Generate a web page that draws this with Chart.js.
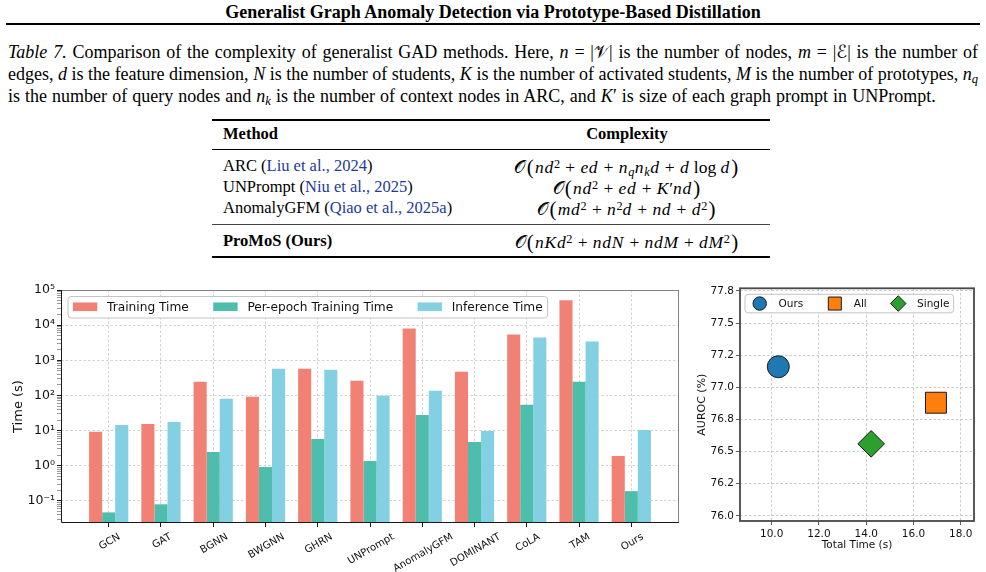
<!DOCTYPE html>
<html><head><meta charset="utf-8">
<script src="https://cdn.jsdelivr.net/npm/chart.js@4.4.1/dist/chart.umd.min.js"></script>
<style>
html,body{margin:0;padding:0;background:#fff;}
#page{position:relative;width:986px;height:572px;overflow:hidden;font-family:"Liberation Serif","Times New Roman",serif;color:#000;}
.title{position:absolute;left:0;top:2px;width:986px;text-align:center;font-weight:bold;font-size:18px;line-height:20px;}
.rule{position:absolute;left:6px;width:974px;top:23px;height:2px;background:#000;}
.cap{position:absolute;left:8px;width:970px;font-size:18px;line-height:22px;top:41px;}
.cap .ln{white-space:nowrap;text-align:justify;text-align-last:justify;}
.cap .ln.last{text-align-last:left;word-spacing:0.55px;}
.cal{font-family:"DejaVu Sans","Noto Sans",serif;font-style:normal;}
sub,sup{font-size:0.7em;line-height:0;}
sub{vertical-align:-0.25em;}
sup{vertical-align:0.45em;}
.tr{position:absolute;left:212px;width:558px;background:#000;}
.row{position:absolute;left:0;width:986px;font-size:16.5px;line-height:20px;}
.mth{position:absolute;left:223px;white-space:nowrap;}
.cx{position:absolute;left:434px;width:386px;text-align:center;white-space:nowrap;font-size:17.5px;}
.cx i{letter-spacing:0.04em;}
.op{margin:0 0.3em;}
.cite{color:#24399a;}
.bp{font-size:1.2em;display:inline-block;transform:translateY(0.5px);margin:0 0.06em;}
canvas{position:absolute;}
</style></head>
<body><div id="page">
<div class="title">Generalist Graph Anomaly Detection via Prototype-Based Distillation</div>
<div class="rule"></div>
<div class="cap">
<div class="ln"><i>Table 7.</i> Comparison of the complexity of generalist GAD methods. Here, <i>n</i> = |<span class="cal">𝒱</span>| is the number of nodes, <i>m</i> = |<span class="cal">ℰ</span>| is the number of</div>
<div class="ln">edges, <i>d</i> is the feature dimension, <i>N</i> is the number of students, <i>K</i> is the number of activated students, <i>M</i> is the number of prototypes, <i>n</i><sub><i>q</i></sub></div>
<div class="ln last">is the number of query nodes and <i>n</i><sub><i>k</i></sub> is the number of context nodes in ARC, and <i>K</i>′ is size of each graph prompt in UNPrompt.</div>
</div>

<div class="tr" style="top:119px;height:1.5px"></div>
<div class="row" style="top:124px;font-weight:bold"><span class="mth">Method</span><span class="cx" style="font-size:16.5px">Complexity</span></div>
<div class="tr" style="top:149px;height:1px"></div>
<div class="row" style="top:156px"><span class="mth">ARC (<span class="cite">Liu et al., 2024</span>)</span><span class="cx"><span class="cal">𝒪</span><span class="bp">(</span><i>nd</i><sup>2</sup><span class="op">+</span><i>ed</i><span class="op">+</span><i>n</i><sub><i>q</i></sub><i>n</i><sub><i>k</i></sub><i>d</i><span class="op">+</span><i>d</i> log <i>d</i><span class="bp">)</span></span></div>
<div class="row" style="top:177px"><span class="mth">UNPrompt (<span class="cite">Niu et al., 2025</span>)</span><span class="cx"><span class="cal">𝒪</span><span class="bp">(</span><i>nd</i><sup>2</sup><span class="op">+</span><i>ed</i><span class="op">+</span><i>K</i>′<i>nd</i><span class="bp">)</span></span></div>
<div class="row" style="top:198px"><span class="mth">AnomalyGFM (<span class="cite">Qiao et al., 2025a</span>)</span><span class="cx"><span class="cal">𝒪</span><span class="bp">(</span><i>md</i><sup>2</sup><span class="op">+</span><i>n</i><sup>2</sup><i>d</i><span class="op">+</span><i>nd</i><span class="op">+</span><i>d</i><sup>2</sup><span class="bp">)</span></span></div>
<div class="tr" style="top:224px;height:1px;background:#444"></div>
<div class="row" style="top:231px"><span class="mth" style="font-weight:bold">ProMoS (Ours)</span><span class="cx"><span class="cal">𝒪</span><span class="bp">(</span><i>nKd</i><sup>2</sup><span class="op">+</span><i>ndN</i><span class="op">+</span><i>ndM</i><span class="op">+</span><i>dM</i><sup>2</sup><span class="bp">)</span></span></div>
<div class="tr" style="top:256px;height:1.5px"></div>

<canvas id="bars" width="680" height="292" style="left:0;top:280px;width:680px;height:292px"></canvas>
<canvas id="scat" width="306" height="292" style="left:680px;top:280px;width:306px;height:292px"></canvas>
</div>
<script>
// ---------------- data: left chart ----------------
const categories = ['GCN','GAT','BGNN','BWGNN','GHRN','UNPrompt','AnomalyGFM','DOMINANT','CoLA','TAM','Ours'];
const trainingTime = [9.2, 15.5, 246, 92, 578, 262, 8030, 475, 5400, 50700, 1.89];
const perEpochTime = [0.047, 0.080, 2.46, 0.92, 5.78, 1.36, 28, 4.74, 54, 246, 0.189];
const inferenceTime = [14.5, 17.7, 80, 578, 541, 98, 136, 9.8, 4450, 3410, 10.4];
const seriesNames = ['Training Time', 'Per-epoch Training Time', 'Inference Time'];
const logExponents = [-1, 0, 1, 2, 3, 4, 5];
const logTickLabels = ['10⁻¹', '10⁰', '10¹', '10²', '10³', '10⁴', '10⁵'];

// ---------------- data: right chart ----------------
const methods = ['Ours', 'All', 'Single'];
const totalTime = [10.28, 16.95, 14.21];
const auroc = [77.16, 76.88, 76.56];
const xTickValues = [10, 12, 14, 16, 18];
const xTickLabels = ['10.0', '12.0', '14.0', '16.0', '18.0'];
const yTickValues = [76.0, 76.25, 76.5, 76.75, 77.0, 77.25, 77.5, 77.75];
const yTickLabels = ['76.0', '76.2', '76.5', '76.8', '77.0', '77.2', '77.5', '77.8'];

const FONT = 'DejaVu Sans';
const barColors = ['#F08174', '#4EBDAC', '#82D0E2'];
const seriesValues = [trainingTime, perEpochTime, inferenceTime];

function roundRect(ctx, x, y, w, h, r) {
  ctx.beginPath();
  ctx.moveTo(x + r, y);
  ctx.arcTo(x + w, y, x + w, y + h, r);
  ctx.arcTo(x + w, y + h, x, y + h, r);
  ctx.arcTo(x, y + h, x, y, r);
  ctx.arcTo(x, y, x + w, y, r);
  ctx.closePath();
}

const barDecor = {
  id: 'barDecor',
  afterDatasetsDraw(chart) {
    const {ctx, chartArea: a} = chart;
    ctx.save();
    ctx.lineWidth = 1;
    ctx.strokeStyle = '#808080';
    ctx.beginPath();
    ctx.moveTo(a.left, a.top + 0.5); ctx.lineTo(a.right - 0.5, a.top + 0.5); ctx.lineTo(a.right - 0.5, a.bottom);
    ctx.stroke();
    ctx.strokeStyle = '#1a1a1a';
    ctx.beginPath();
    ctx.moveTo(a.left + 0.5, a.top); ctx.lineTo(a.left + 0.5, a.bottom - 0.5); ctx.lineTo(a.right, a.bottom - 0.5);
    ctx.stroke();

    // category labels: rotated 30 degrees, centred under their tick
    const xs = chart.scales.x;
    const lfs = 10.2;
    ctx.font = lfs + 'px "' + FONT + '"';
    ctx.fillStyle = '#111';
    ctx.textAlign = 'center';
    ctx.textBaseline = 'middle';
    const ang = Math.PI / 6;
    xs.ticks.forEach(t => {
      const label = categories[t.value];
      const px = xs.getPixelForValue(t.value);
      const W = ctx.measureText(label).width;
      const H = lfs * 1.17;
      const bh = W * Math.sin(ang) + H * Math.cos(ang);
      const cy = xs.top + 8 + bh / 2;
      ctx.save();
      ctx.translate(px + 1, cy);
      ctx.rotate(-ang);
      ctx.fillText(label, 0, 0);
      ctx.restore();
    });

    // legend (inside, upper left)
    const fs = 12.2;
    ctx.font = fs + 'px "' + FONT + '"';
    ctx.textAlign = 'left';
    const pad = 0.4 * fs, hl = 2 * fs, htp = 0.8 * fs, cs = 2 * fs;
    const ds = chart.data.datasets;
    const widths = ds.map(d => ctx.measureText(d.label).width);
    let w = pad * 2;
    widths.forEach((tw, i) => { w += hl + htp + tw + (i ? cs : 0); });
    const bx = a.left + 7, by = a.top + 6.5, bh = 21.5;
    roundRect(ctx, bx, by, w, bh, 3);
    ctx.fillStyle = 'rgba(255,255,255,0.85)';
    ctx.fill();
    ctx.strokeStyle = '#c4c4c4';
    ctx.lineWidth = 1;
    ctx.stroke();
    let x = bx + pad;
    const cy = by + bh / 2;
    ds.forEach((d, i) => {
      ctx.fillStyle = d.backgroundColor;
      ctx.fillRect(x, cy - 4.8, hl, 8.6);
      x += hl + htp;
      ctx.fillStyle = '#111';
      ctx.textBaseline = 'middle';
      ctx.fillText(d.label, x, cy + 0.5);
      x += widths[i] + cs;
    });
    ctx.restore();
  }
};

new Chart(document.getElementById('bars'), {
  type: 'bar',
  data: {
    datasets: seriesNames.map((name, k) => ({
      label: name,
      data: seriesValues[k].map((v, i) => ({x: i, y: v})),
      backgroundColor: barColors[k],
      borderWidth: 0,
      categoryPercentage: 0.75,
      barPercentage: 1.0
    }))
  },
  options: {
    responsive: false,
    animation: false,
    devicePixelRatio: 1,
    layout: {autoPadding: false, padding: {top: 10, right: 1, left: 0, bottom: 0}},
    plugins: {legend: {display: false}, tooltip: {enabled: false}},
    scales: {
      x: {
        type: 'linear',
        offset: false,
        min: -0.9125,
        max: 10.9125,
        afterBuildTicks: ax => { ax.ticks = categories.map((c, i) => ({value: i})); },
        afterFit: ax => { ax.height = 49; },
        ticks: {display: false, autoSkip: false},
        grid: {offset: false, color: '#c6c6c6', lineWidth: 0.8, tickColor: '#1a1a1a', tickLength: 4, tickWidth: 1},
        border: {display: false, dash: [2.5, 2]}
      },
      y: {
        type: 'logarithmic',
        min: 0.0235,
        max: 100000,
        afterBuildTicks: ax => {
          const t = [];
          for (let e = -2; e <= 5; e++) {
            for (let m = 1; m <= 9; m++) {
              const v = m * Math.pow(10, e);
              if (v >= ax.min * 0.9999 && v <= ax.max * 1.0001) t.push({value: v, major: m === 1});
            }
          }
          ax.ticks = t;
        },
        afterFit: ax => { ax.width = 61; },
        ticks: {
          autoSkip: false,
          padding: 2,
          color: '#111',
          font: {family: FONT, size: 12.5},
          callback: (v, i, ticks) => {
            if (!ticks[i].major) return '';
            const idx = logExponents.indexOf(Math.round(Math.log10(v)));
            return idx >= 0 ? logTickLabels[idx] : '';
          }
        },
        grid: {
          color: c => (c.tick && c.tick.major) ? '#c6c6c6' : 'rgba(0,0,0,0)',
          lineWidth: 0.8,
          tickColor: c => (c.tick && c.tick.major) ? '#1a1a1a' : '#555',
          tickWidth: c => (c.tick && c.tick.major) ? 1 : 0.6,
          tickLength: 4
        },
        border: {display: false, dash: [2.5, 2]},
        title: {display: true, text: 'Time (s)', color: '#111', font: {family: FONT, size: 13}, padding: {top: 11, bottom: 0}}
      }
    }
  },
  plugins: [barDecor]
});

// ---------------- right chart ----------------
const markerStyles = ['circle', 'rect', 'rectRot'];
const markerColors = ['#1f77b4', '#ff7f0e', '#2ca02c'];
const markerRadius = [11, 14.8, 13.3];
const legendRadius = [6.7, 9.2, 7.8];

const scatDecor = {
  id: 'scatDecor',
  afterDatasetsDraw(chart) {
    const {ctx, chartArea: a} = chart;
    ctx.save();
    ctx.strokeStyle = '#484848';
    ctx.lineWidth = 1.8;
    ctx.strokeRect(a.left, a.top, a.right - a.left, a.bottom - a.top);
    const fs = 10.5;
    ctx.font = fs + 'px "' + FONT + '"';
    const pad = 0.4 * fs, hl = 2 * fs, htp = 0.8 * fs, cs = 2 * fs;
    const ds = chart.data.datasets;
    const widths = ds.map(d => ctx.measureText(d.label).width);
    let w = pad * 2;
    widths.forEach((tw, i) => { w += hl + htp + tw + (i ? cs : 0); });
    const bx = a.left + 5, by = a.top + 6, bh = 18.5;
    roundRect(ctx, bx, by, w, bh, 3);
    ctx.fillStyle = 'rgba(255,255,255,0.85)';
    ctx.fill();
    ctx.strokeStyle = '#c4c4c4';
    ctx.lineWidth = 1;
    ctx.stroke();
    let x = bx + pad;
    const cy = by + bh / 2;
    ds.forEach((d, i) => {
      ctx.fillStyle = d.backgroundColor;
      ctx.strokeStyle = d.borderColor;
      ctx.lineWidth = 1;
      Chart.helpers.drawPoint(ctx, {pointStyle: d.pointStyle, radius: legendRadius[i], rotation: 0, borderWidth: 1}, x + hl / 2, cy);
      x += hl + htp;
      ctx.fillStyle = '#111';
      ctx.textBaseline = 'middle';
      ctx.fillText(d.label, x, cy + 0.5);
      x += widths[i] + cs;
    });
    ctx.restore();
  }
};

new Chart(document.getElementById('scat'), {
  type: 'scatter',
  data: {
    datasets: methods.map((m, i) => ({
      label: m,
      data: [{x: totalTime[i], y: auroc[i]}],
      pointStyle: markerStyles[i],
      pointRadius: markerRadius[i],
      backgroundColor: markerColors[i],
      borderColor: '#1a1a1a',
      borderWidth: 1
    }))
  },
  options: {
    responsive: false,
    animation: false,
    devicePixelRatio: 1,
    layout: {autoPadding: false, padding: {top: 8, right: 12, left: 0, bottom: 0}},
    plugins: {legend: {display: false}, tooltip: {enabled: false}},
    scales: {
      x: {
        type: 'linear',
        min: 8.66,
        max: 18.56,
        afterBuildTicks: ax => { ax.ticks = xTickValues.map(v => ({value: v})); },
        afterFit: ax => { ax.height = 51; },
        ticks: {
          callback: (v, i) => xTickLabels[i],
          maxRotation: 0,
          padding: 3,
          color: '#111',
          font: {family: FONT, size: 10.5}
        },
        grid: {color: '#bdbdbd', lineWidth: 0.8, tickColor: '#333', tickLength: 4},
        border: {display: false, dash: [2.5, 2]},
        title: {display: true, text: 'Total Time (s)', color: '#111', font: {family: FONT, size: 10.5}, padding: {top: 0, bottom: 20}}
      },
      y: {
        type: 'linear',
        min: 75.96,
        max: 77.77,
        afterBuildTicks: ax => { ax.ticks = yTickValues.map(v => ({value: v})); },
        afterFit: ax => { ax.width = 60; },
        ticks: {
          callback: (v, i) => yTickLabels[i],
          padding: 2,
          color: '#111',
          font: {family: FONT, size: 10.5}
        },
        grid: {color: '#bdbdbd', lineWidth: 0.8, tickColor: '#333', tickLength: 4},
        border: {display: false, dash: [2.5, 2]},
        title: {display: true, text: 'AUROC (%)', color: '#111', font: {family: FONT, size: 11}, padding: {top: 16, bottom: 0}}
      }
    }
  },
  plugins: [scatDecor]
});
</script>
</body></html>
